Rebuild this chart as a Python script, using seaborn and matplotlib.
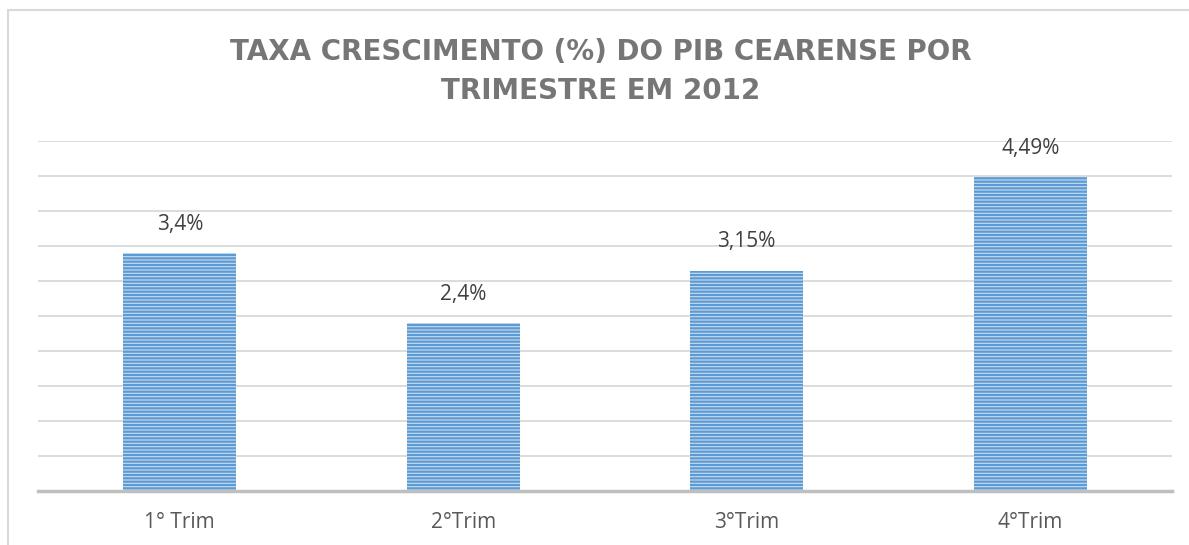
import matplotlib
matplotlib.use("Agg")
import matplotlib.pyplot as plt
import seaborn as sns
import pandas as pd
from matplotlib.lines import Line2D

categories = ["1° Trim", "2°Trim", "3°Trim", "4°Trim"]
values = [3.4, 2.4, 3.15, 4.49]
labels = ["3,4%", "2,4%", "3,15%", "4,49%"]
title = "TAXA CRESCIMENTO (%) DO PIB CEARENSE POR\nTRIMESTRE EM 2012"

sns.set_theme(style="white")
plt.rcParams["font.family"] = ["Open Sans", "DejaVu Sans"]
plt.rcParams["hatch.linewidth"] = 1.6

df = pd.DataFrame({"cat": categories, "val": values})

fig = plt.figure(figsize=(11.89, 5.45), dpi=100)
W, H = 1189, 545
ax = fig.add_axes([38 / W, (H - 491) / H, (1172 - 38) / W, (491 - 141) / H])

sns.barplot(data=df, x="cat", y="val", ax=ax, width=0.4, color="#c6dcf1")
for p in ax.patches:
    p.set_hatch("-----")
    p.set_edgecolor("#5b9bd5")
    p.set_linewidth(0)

ax.set_ylim(0, 5.0)
ax.set_yticks([i * 0.5 for i in range(11)])
ax.yaxis.grid(True, color="#d9d9d9", linewidth=1.3)
ax.set_axisbelow(True)
ax.set_xlim(-0.5, 3.5)
ax.tick_params(axis="y", left=False, labelleft=False)
ax.tick_params(axis="x", bottom=False, pad=9, labelsize=15, labelcolor="#595959")
for s in ["top", "right", "left"]:
    ax.spines[s].set_visible(False)
ax.spines["bottom"].set_color("#bfbfbf")
ax.spines["bottom"].set_linewidth(2.5)
ax.set_xlabel("")
ax.set_ylabel("")

for i, (v, lab) in enumerate(zip(values, labels)):
    ax.annotate(lab, (i, v), xytext=(0, 13), textcoords="offset points",
                ha="center", va="bottom", fontsize=15, color="#404040")

fig.text(601 / W, 1 - 71 / H, title, ha="center", va="center", fontsize=20,
         fontweight="bold", color="#767676", linespacing=1.5,
         family=["DejaVu Sans"])

fig.add_artist(Line2D([8 / W, 8 / W], [0, 1 - 10 / H], color="#d9d9d9", lw=1.5,
                      transform=fig.transFigure))
fig.add_artist(Line2D([8 / W, 1], [1 - 10 / H, 1 - 10 / H], color="#d9d9d9", lw=1.5,
                      transform=fig.transFigure))

fig.savefig("out.png", dpi=100)
